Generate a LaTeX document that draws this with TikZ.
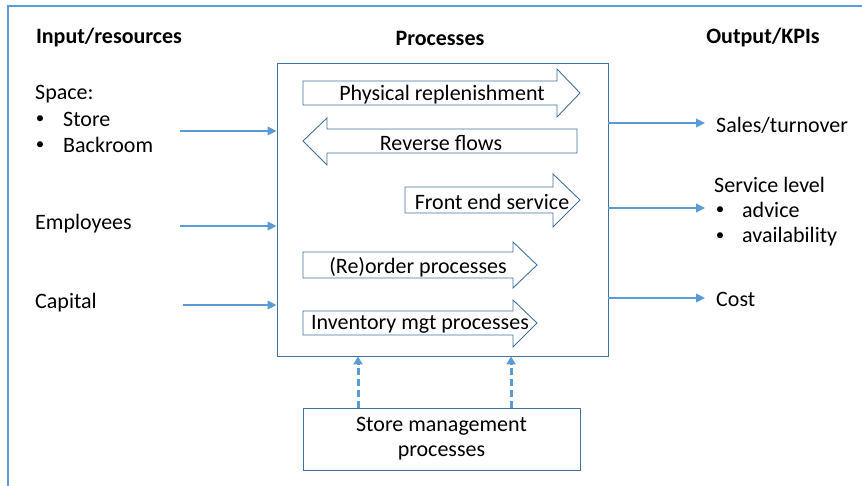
\documentclass[tikz,border=0pt]{standalone}
\usepackage{fontspec}
\setmainfont{Carlito}
\usetikzlibrary{arrows.meta}
\definecolor{conn}{HTML}{5B9BD5}
\definecolor{shp}{HTML}{41719C}
\tikzset{
  flow/.style={draw=shp, line width=0.9pt, fill=white, line join=miter},
  lbl/.style={inner sep=0pt, font=\fontsize{22}{25}\selectfont},
  dot/.style={inner sep=0pt, font=\fontsize{17}{20}\selectfont},
  head/.style={inner sep=0pt, font=\bfseries\fontsize{22}{25}\selectfont},
  feed/.style={conn, line width=2.8pt, -{Triangle[length=9pt,width=8.5pt]}},
  ctrl/.style={conn, line width=3pt, dash pattern=on 7pt off 4pt, -{Triangle[length=8pt,width=9pt]}}
}
\begin{document}
\begin{tikzpicture}[x=1pt,y=-1pt]
\useasboundingbox (0,0) rectangle (862,486);
\draw[conn, line width=1.2pt] (8,486) -- (8,6) -- (862,6);

% titles
\node[head] (tin) at (109,38) {Input/resources};
\node[head] (tproc) at (440,38) {Processes};
\node[head] (tout) at (763,38) {Output/KPIs};

% main process box
\node[draw=shp, line width=0.9pt, minimum width=331pt, minimum height=293pt, inner sep=0pt] (proc) at (442.5,209.5) {};

% flow arrows
\draw[flow] (303,81) -- (557,81) -- (557,69) -- (580,93) -- (557,117) -- (557,105) -- (303,105) -- cycle;
\node[lbl] (phys) at (442,95) {Physical replenishment};
\draw[flow] (577,129) -- (327,129) -- (327,118) -- (303,141) -- (327,165) -- (327,153) -- (577,153) -- cycle;
\node[lbl] (rev) at (441,143) {Reverse flows};
\draw[flow] (405,187) -- (553,187) -- (553,174) -- (580,200) -- (553,227) -- (553,213) -- (405,213) -- cycle;
\node[lbl] (front) at (492,202) {Front end service};
\draw[flow] (303,252) -- (513,252) -- (513,242) -- (537,265) -- (513,288) -- (513,278) -- (303,278) -- cycle;
\node[lbl] (reord) at (418,267) {(Re)order processes};
\draw[flow] (303,311) -- (513,311) -- (513,300) -- (537,323) -- (513,347) -- (513,335) -- (303,335) -- cycle;
\node[lbl] (inv) at (420,324) {Inventory mgt processes};

% store management box
\node[draw=shp, line width=0.9pt, minimum width=277pt, minimum height=62pt, inner sep=0pt, align=center,
  font=\fontsize{22}{25}\selectfont] (smp) at (441.5,439) {\raisebox{-2pt}{Store management}\\\raisebox{-2pt}{processes}};
\coordinate (d1) at (358,408);
\coordinate (d2) at (511,408);
\draw[ctrl] (d1) -- (d1 |- proc.south);
\draw[ctrl] (d2) -- (d2 |- proc.south);

% inputs
\node[lbl, anchor=west] (space) at (35,94) {Space:};
\node[dot] (b1) at (40,120) {•};
\node[lbl, anchor=west] (store) at (63,119) {Store};
\node[dot] (b2) at (40,146) {•};
\node[lbl, anchor=west] (back) at (63,145) {Backroom};
\node[lbl, anchor=west] (emp) at (35,224) {Employees};
\node[lbl, anchor=west] (cap) at (35,303) {Capital};
\coordinate (i1) at (180,131);
\coordinate (i2) at (180,226);
\coordinate (i3) at (183,305);
\draw[feed] (i1) -- (i1 -| proc.west);
\draw[feed] (i2) -- (i2 -| proc.west);
\draw[feed] (i3) -- (i3 -| proc.west);

% outputs
\node[lbl, anchor=west] (sales) at (716,125) {Sales/turnover};
\node[lbl, anchor=west] (serv) at (714,185) {Service level};
\node[dot] (b3) at (720,211) {•};
\node[lbl, anchor=west] (adv) at (742,210) {advice};
\node[dot] (b4) at (720,237) {•};
\node[lbl, anchor=west] (avail) at (742,237) {availability};
\node[lbl, anchor=west] (cost) at (716,299) {Cost};
\coordinate (o1) at (705,123);
\coordinate (o2) at (705,208);
\coordinate (o3) at (705,298);
\draw[feed] (o1 -| proc.east) -- (o1);
\draw[feed] (o2 -| proc.east) -- (o2);
\draw[feed] (o3 -| proc.east) -- (o3);
\end{tikzpicture}
\end{document}
